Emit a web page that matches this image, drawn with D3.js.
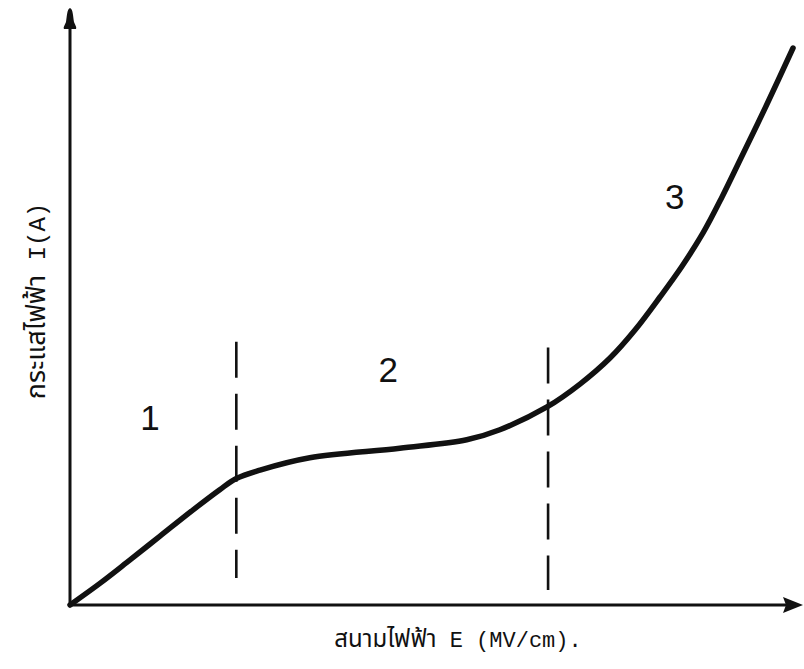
<!DOCTYPE html>
<html>
<head>
<meta charset="utf-8">
<script src="https://cdn.jsdelivr.net/npm/d3@7"></script>
<style>
  html, body { margin: 0; padding: 0; background: #fff; }
  svg { display: block; }
</style>
</head>
<body>
<svg id="chart" width="804" height="669"></svg>
<script>
// ---- data (arbitrary units 0..100) ----
const curveE = [0, 4.2, 7.9, 12.5, 17.1, 20.8, 23.1, 26.4, 33.3, 45.8, 55.1, 59.7, 66.25, 70.83, 75.0, 78.47, 81.94, 85.0, 87.92, 90.56, 93.06, 96.81, 100.42];
const curveI = [0, 3.9, 7.6, 12.3, 17.0, 20.6, 22.6, 24.1, 26.3, 28.0, 29.5, 31.3, 35.36, 39.45, 44.1, 49.1, 55.0, 60.5, 66.43, 72.86, 79.46, 89.46, 99.46];
const boundaryE = [23.1, 66.4];
const boundaryLow = [4.8, 2.7];
const boundaryHigh = [47.0, 46.0];
const regionLabels = ["1", "2", "3"];
const regionE = [11.1, 44.2, 84.0];
const regionI = [33.4, 42.0, 72.9];
const xTitleThai = "สนามไฟฟ้า";
const xTitleLatin = " E (MV/cm).";
const yTitleThai = "กระแสไฟฟ้า";
const yTitleLatin = " I(A)";

const svg = d3.select("#chart");
const x = d3.scaleLinear().domain([0, 100]).range([70, 790]);
const y = d3.scaleLinear().domain([0, 100]).range([605, 45]);

const ink = "#111";
const thaiFont = "'Noto Sans Thai', 'Noto Serif Thai', 'Loma', 'Garuda', 'Norasi', 'Tlwg Typo', 'DejaVu Sans', sans-serif";
const monoFont = "'Liberation Mono', 'DejaVu Sans Mono', monospace";

// axes
const x0 = x(0), y0 = y(0);
svg.append("line").attr("x1", x0).attr("y1", y0).attr("x2", x0).attr("y2", 22)
  .attr("stroke", ink).attr("stroke-width", 3);
svg.append("line").attr("x1", x0).attr("y1", y0).attr("x2", 790).attr("y2", y0)
  .attr("stroke", ink).attr("stroke-width", 3);
// y arrowhead (bullet-shaped)
svg.append("path")
  .attr("d", `M${x0},8 C${x0+3},9 ${x0+3},16 ${x0+4},22 C${x0+5},25 ${x0+7},27 ${x0+6},29 L${x0-6},29 C${x0-7},27 ${x0-5},25 ${x0-4},22 C${x0-3},16 ${x0-3},9 ${x0},8 Z`)
  .attr("fill", ink);
// x arrowhead
svg.append("path")
  .attr("d", `M803,${y0} L783,${y0-8} L786,${y0} L783,${y0+8} Z`)
  .attr("fill", ink);

// dashed boundaries
svg.selectAll("line.boundary").data(boundaryE).join("line")
  .attr("class", "boundary")
  .attr("x1", d => x(d)).attr("x2", d => x(d))
  .attr("y1", (d, i) => y(boundaryHigh[i]))
  .attr("y2", (d, i) => y(boundaryLow[i]))
  .attr("stroke", ink).attr("stroke-width", 2.6)
  .attr("stroke-dasharray", "36,16");

// curve
const pts = curveE.map((e, i) => [e, curveI[i]]);
svg.append("path")
  .datum(pts)
  .attr("d", d3.line().x(d => x(d[0])).y(d => y(d[1])).curve(d3.curveCatmullRom.alpha(0.5)))
  .attr("fill", "none").attr("stroke", ink).attr("stroke-width", 5.5)
  .attr("stroke-linecap", "round").attr("stroke-linejoin", "round");

// region labels
svg.selectAll("text.region").data(regionLabels).join("text")
  .attr("class", "region")
  .attr("x", (d, i) => x(regionE[i]))
  .attr("y", (d, i) => y(regionI[i]))
  .attr("text-anchor", "middle")
  .attr("dominant-baseline", "central")
  .attr("font-family", "'Liberation Sans', Arial, sans-serif")
  .attr("font-size", 35)
  .attr("fill", ink)
  .text(d => d);

// x title
const xt = svg.append("text")
  .attr("x", 458).attr("y", 647)
  .attr("text-anchor", "middle")
  .attr("fill", ink).attr("font-size", 24);
xt.append("tspan").attr("font-family", thaiFont).text(xTitleThai);
xt.append("tspan").attr("font-family", monoFont).attr("font-size", 22).text(xTitleLatin);

// y title
const yt = svg.append("text")
  .attr("transform", "translate(45,301) rotate(-90)")
  .attr("text-anchor", "middle")
  .attr("fill", ink).attr("font-size", 27);
yt.append("tspan").attr("font-family", thaiFont).text(yTitleThai);
yt.append("tspan").attr("font-family", monoFont).attr("font-size", 24).text(yTitleLatin);
</script>
</body>
</html>
